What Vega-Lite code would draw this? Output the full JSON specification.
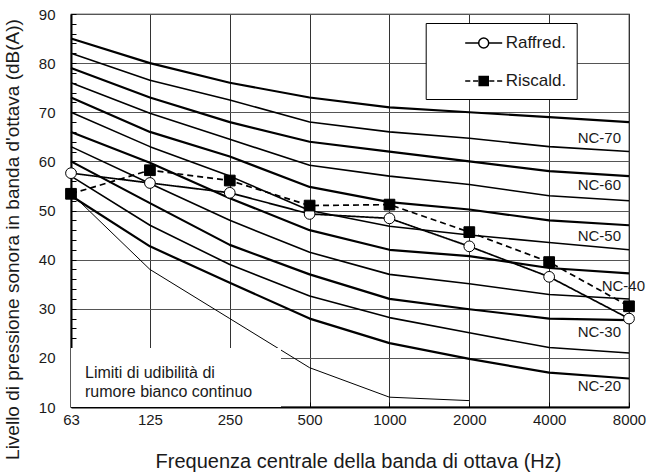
{
"$schema":"https://vega.github.io/schema/vega-lite/v6.json",
"width":558,"height":393,
"autosize":{"type":"none"},
"padding":{"left":71,"top":14,"right":22,"bottom":65},
"background":"white",
"config":{
 "font":"Liberation Sans",
 "view":{"stroke":"black","strokeWidth":1.2},
 "axis":{"labelFont":"Liberation Sans","titleFont":"Liberation Sans","labelColor":"#1a1a1a","titleColor":"#1a1a1a","titleFontWeight":"normal","domainColor":"black","domainWidth":2,"tickColor":"black","tickWidth":1,"gridColor":"#444","gridWidth":1}
},
"resolve":{"axis":{"y":"independent"}},
"datasets":{
 "nc":[
  {"curva":"NC-70","tipo":"principale","Hz":63,"dB":85},{"curva":"NC-70","tipo":"principale","Hz":125,"dB":80},{"curva":"NC-70","tipo":"principale","Hz":250,"dB":76},{"curva":"NC-70","tipo":"principale","Hz":500,"dB":73},{"curva":"NC-70","tipo":"principale","Hz":1000,"dB":71},{"curva":"NC-70","tipo":"principale","Hz":2000,"dB":70},{"curva":"NC-70","tipo":"principale","Hz":4000,"dB":69},{"curva":"NC-70","tipo":"principale","Hz":8000,"dB":68},
  {"curva":"NC-65","tipo":"intermedia","Hz":63,"dB":82},{"curva":"NC-65","tipo":"intermedia","Hz":125,"dB":76.5},{"curva":"NC-65","tipo":"intermedia","Hz":250,"dB":72.5},{"curva":"NC-65","tipo":"intermedia","Hz":500,"dB":68},{"curva":"NC-65","tipo":"intermedia","Hz":1000,"dB":66},{"curva":"NC-65","tipo":"intermedia","Hz":2000,"dB":64.7},{"curva":"NC-65","tipo":"intermedia","Hz":4000,"dB":63},{"curva":"NC-65","tipo":"intermedia","Hz":8000,"dB":62},
  {"curva":"NC-60","tipo":"principale","Hz":63,"dB":79},{"curva":"NC-60","tipo":"principale","Hz":125,"dB":73},{"curva":"NC-60","tipo":"principale","Hz":250,"dB":68},{"curva":"NC-60","tipo":"principale","Hz":500,"dB":64},{"curva":"NC-60","tipo":"principale","Hz":1000,"dB":62},{"curva":"NC-60","tipo":"principale","Hz":2000,"dB":60},{"curva":"NC-60","tipo":"principale","Hz":4000,"dB":58},{"curva":"NC-60","tipo":"principale","Hz":8000,"dB":57},
  {"curva":"NC-55","tipo":"intermedia","Hz":63,"dB":76},{"curva":"NC-55","tipo":"intermedia","Hz":125,"dB":69.8},{"curva":"NC-55","tipo":"intermedia","Hz":250,"dB":64.5},{"curva":"NC-55","tipo":"intermedia","Hz":500,"dB":59.2},{"curva":"NC-55","tipo":"intermedia","Hz":1000,"dB":57},{"curva":"NC-55","tipo":"intermedia","Hz":2000,"dB":55.3},{"curva":"NC-55","tipo":"intermedia","Hz":4000,"dB":53},{"curva":"NC-55","tipo":"intermedia","Hz":8000,"dB":52},
  {"curva":"NC-50","tipo":"principale","Hz":63,"dB":73},{"curva":"NC-50","tipo":"principale","Hz":125,"dB":66},{"curva":"NC-50","tipo":"principale","Hz":250,"dB":61},{"curva":"NC-50","tipo":"principale","Hz":500,"dB":54.8},{"curva":"NC-50","tipo":"principale","Hz":1000,"dB":51.7},{"curva":"NC-50","tipo":"principale","Hz":2000,"dB":50.2},{"curva":"NC-50","tipo":"principale","Hz":4000,"dB":48},{"curva":"NC-50","tipo":"principale","Hz":8000,"dB":47},
  {"curva":"NC-45","tipo":"intermedia","Hz":63,"dB":70},{"curva":"NC-45","tipo":"intermedia","Hz":125,"dB":63},{"curva":"NC-45","tipo":"intermedia","Hz":250,"dB":57},{"curva":"NC-45","tipo":"intermedia","Hz":500,"dB":50},{"curva":"NC-45","tipo":"intermedia","Hz":1000,"dB":46.8},{"curva":"NC-45","tipo":"intermedia","Hz":2000,"dB":45},{"curva":"NC-45","tipo":"intermedia","Hz":4000,"dB":43.5},{"curva":"NC-45","tipo":"intermedia","Hz":8000,"dB":42},
  {"curva":"NC-40","tipo":"principale","Hz":63,"dB":66},{"curva":"NC-40","tipo":"principale","Hz":125,"dB":59.7},{"curva":"NC-40","tipo":"principale","Hz":250,"dB":52.5},{"curva":"NC-40","tipo":"principale","Hz":500,"dB":46},{"curva":"NC-40","tipo":"principale","Hz":1000,"dB":42},{"curva":"NC-40","tipo":"principale","Hz":2000,"dB":40.7},{"curva":"NC-40","tipo":"principale","Hz":4000,"dB":38.3},{"curva":"NC-40","tipo":"principale","Hz":8000,"dB":37.2},
  {"curva":"NC-35","tipo":"intermedia","Hz":63,"dB":63},{"curva":"NC-35","tipo":"intermedia","Hz":125,"dB":55.5},{"curva":"NC-35","tipo":"intermedia","Hz":250,"dB":48},{"curva":"NC-35","tipo":"intermedia","Hz":500,"dB":41.5},{"curva":"NC-35","tipo":"intermedia","Hz":1000,"dB":37},{"curva":"NC-35","tipo":"intermedia","Hz":2000,"dB":35.1},{"curva":"NC-35","tipo":"intermedia","Hz":4000,"dB":32.9},{"curva":"NC-35","tipo":"intermedia","Hz":8000,"dB":32},
  {"curva":"NC-30","tipo":"principale","Hz":63,"dB":60},{"curva":"NC-30","tipo":"principale","Hz":125,"dB":51.5},{"curva":"NC-30","tipo":"principale","Hz":250,"dB":43},{"curva":"NC-30","tipo":"principale","Hz":500,"dB":37},{"curva":"NC-30","tipo":"principale","Hz":1000,"dB":32},{"curva":"NC-30","tipo":"principale","Hz":2000,"dB":29.9},{"curva":"NC-30","tipo":"principale","Hz":4000,"dB":28},{"curva":"NC-30","tipo":"principale","Hz":8000,"dB":27.7},
  {"curva":"NC-25","tipo":"intermedia","Hz":63,"dB":57},{"curva":"NC-25","tipo":"intermedia","Hz":125,"dB":47},{"curva":"NC-25","tipo":"intermedia","Hz":250,"dB":39},{"curva":"NC-25","tipo":"intermedia","Hz":500,"dB":32.6},{"curva":"NC-25","tipo":"intermedia","Hz":1000,"dB":28.2},{"curva":"NC-25","tipo":"intermedia","Hz":2000,"dB":25.1},{"curva":"NC-25","tipo":"intermedia","Hz":4000,"dB":22.1},{"curva":"NC-25","tipo":"intermedia","Hz":8000,"dB":21},
  {"curva":"NC-20","tipo":"principale","Hz":63,"dB":53},{"curva":"NC-20","tipo":"principale","Hz":125,"dB":42.7},{"curva":"NC-20","tipo":"principale","Hz":250,"dB":35.3},{"curva":"NC-20","tipo":"principale","Hz":500,"dB":28},{"curva":"NC-20","tipo":"principale","Hz":1000,"dB":23},{"curva":"NC-20","tipo":"principale","Hz":2000,"dB":19.8},{"curva":"NC-20","tipo":"principale","Hz":4000,"dB":17},{"curva":"NC-20","tipo":"principale","Hz":8000,"dB":15.8},
  {"curva":"Soglia","tipo":"soglia","Hz":63,"dB":53.5},{"curva":"Soglia","tipo":"soglia","Hz":125,"dB":38},{"curva":"Soglia","tipo":"soglia","Hz":250,"dB":28},{"curva":"Soglia","tipo":"soglia","Hz":500,"dB":18},{"curva":"Soglia","tipo":"soglia","Hz":1000,"dB":12},{"curva":"Soglia","tipo":"soglia","Hz":2000,"dB":11.3}
 ],
 "misure":[
  {"serie":"Raffred.","Hz":63,"dB":57.6},{"serie":"Raffred.","Hz":125,"dB":55.6},{"serie":"Raffred.","Hz":250,"dB":53.6},{"serie":"Raffred.","Hz":500,"dB":49.3},{"serie":"Raffred.","Hz":1000,"dB":48.4},{"serie":"Raffred.","Hz":2000,"dB":42.7},{"serie":"Raffred.","Hz":4000,"dB":36.5},{"serie":"Raffred.","Hz":8000,"dB":28},
  {"serie":"Riscald.","Hz":63,"dB":53.4},{"serie":"Riscald.","Hz":125,"dB":58.2},{"serie":"Riscald.","Hz":250,"dB":56.1},{"serie":"Riscald.","Hz":500,"dB":51},{"serie":"Riscald.","Hz":1000,"dB":51.2},{"serie":"Riscald.","Hz":2000,"dB":45.6},{"serie":"Riscald.","Hz":4000,"dB":39.5},{"serie":"Riscald.","Hz":8000,"dB":30.5}
 ],
 "riquadro":[{"x1":63,"x2":390,"y1":10,"y2":22}],
 "nota":[{"testo":"Limiti di udibilità di\nrumore bianco continuo","Hz":63,"dB":16.0}],
 "etichette":[
  {"label":"NC-70","Hz":8000,"dB":64.8},{"label":"NC-60","Hz":8000,"dB":55.1},{"label":"NC-50","Hz":8000,"dB":44.8},{"label":"NC-40","Hz":8000,"dB":34.7},{"label":"NC-30","Hz":8000,"dB":25.2},{"label":"NC-20","Hz":8000,"dB":14.3}
 ]
},
"layer":[
 {"data":{"name":"nc"},
  "mark":{"type":"line","color":"black","strokeJoin":"round"},
  "encoding":{
   "x":{"field":"Hz","type":"quantitative","scale":{"type":"log","base":2,"domain":[63,8000],"nice":false},
        "axis":{"values":[63,125,250,500,1000,2000,4000,8000],"format":"d","grid":true,"gridColor":"#333","tickSize":-5,"labelPadding":10,"labelFontSize":15,"labelFlush":false,"labelOverlap":false,
                "title":"Frequenza centrale della banda di ottava (Hz)","titleFontSize":20,"titleX":287,"titleY":54,"titleBaseline":"middle","titleAlign":"center"}},
   "y":{"field":"dB","type":"quantitative","scale":{"domain":[10,90],"nice":false,"zero":false},
        "axis":{"orient":"left","values":[10,20,30,40,50,60,70,80,90],"grid":true,"gridColor":"#555","tickSize":-5,"labelPadding":21,"labelFontSize":15,"labelOverlap":false,"labelFlush":false,
                "title":"Livello di pressione sonora in banda d'ottava (dB(A))","titleFontSize":19,"titleX":-59,"titleY":225,"titleBaseline":"middle","titleAlign":"center"}},
   "detail":{"field":"curva","type":"nominal"},
   "strokeWidth":{"field":"tipo","type":"nominal","scale":{"domain":["principale","intermedia","soglia"],"range":[2.2,1,0.9]},"legend":null}
  }},
 {"data":{"name":"riquadro"},
  "mark":{"type":"rect","fill":"white"},
  "encoding":{
   "x":{"field":"x1","type":"quantitative","scale":{"type":"log","base":2,"domain":[63,8000],"nice":false}},
   "x2":{"field":"x2"},
   "y":{"field":"y1","type":"quantitative","scale":{"domain":[10,90],"nice":false,"zero":false},"axis":null},
   "y2":{"field":"y2"}
  }},
 {"data":{"name":"nota"},
  "mark":{"type":"text","align":"left","baseline":"alphabetic","dx":14,"fontSize":16,"lineBreak":"\n","lineHeight":19,"color":"#1a1a1a","font":"Liberation Sans"},
  "encoding":{
   "x":{"field":"Hz","type":"quantitative","scale":{"type":"log","base":2,"domain":[63,8000],"nice":false}},
   "y":{"field":"dB","type":"quantitative","scale":{"domain":[10,90],"nice":false,"zero":false},"axis":null},
   "text":{"field":"testo","type":"nominal"}
  }},
 {"data":{"name":"misure"},
  "mark":{"type":"line","color":"black","strokeWidth":1.7},
  "encoding":{
   "x":{"field":"Hz","type":"quantitative","scale":{"type":"log","base":2,"domain":[63,8000],"nice":false}},
   "y":{"field":"dB","type":"quantitative","scale":{"domain":[10,90],"nice":false,"zero":false},
        "axis":{"orient":"left","values":[12,14,16,18,22,24,26,28,32,34,36,38,42,44,46,48,52,54,56,58,62,64,66,68,72,74,76,78,82,84,86,88],"labels":false,"grid":false,"domain":false,"tickSize":-5,"title":null}},
   "strokeDash":{"field":"serie","type":"nominal","scale":{"range":[[1,0],[6,4]]},"legend":null}
  }},
 {"data":{"name":"misure"},
  "mark":{"type":"point","filled":true,"stroke":"black","strokeWidth":1,"size":115,"opacity":1},
  "encoding":{
   "x":{"field":"Hz","type":"quantitative","scale":{"type":"log","base":2,"domain":[63,8000],"nice":false}},
   "y":{"field":"dB","type":"quantitative","scale":{"domain":[10,90],"nice":false,"zero":false},"axis":null},
   "shape":{"field":"serie","type":"nominal","scale":{"range":["circle","square"]},"legend":null},
   "fill":{"field":"serie","type":"nominal","scale":{"domain":["Raffred.","Riscald."],"range":["white","black"]},
            "legend":{"orient":"none","legendX":354.7,"legendY":9,"direction":"vertical","title":null,
                      "fillColor":"white","strokeColor":"black","padding":10,
                      "symbolSize":342,"symbolOffset":38,"labelOffset":12,"rowPadding":20,
                      "labelFont":"Liberation Sans","labelFontSize":17,"labelColor":"#1a1a1a",
                      "labelExpr":"datum.label + '\u2003\u2003\u2002\u2009\u2009'",
                      "encoding":{"symbols":{
                        "shape":{"condition":{"test":"datum.value === 'Raffred.'","value":"M-2,0H-0.54M0.54,0H2M0.54,0A0.54,0.54,0,1,1,-0.54,0A0.54,0.54,0,1,1,0.54,0Z"},"value":"M-2,0H-1.45M-1.15,0H-0.6M-0.49,-0.49H0.49V0.49H-0.49ZM0.6,0H1.15M1.45,0H2"},
                        "stroke":{"value":"black"},
                        "strokeWidth":{"value":1.5},
                        "opacity":{"value":1}
                      }}}}
  }},
 {"data":{"name":"etichette"},
  "transform":[{"filter":"datum.label !== 'NC-40'"}],
  "mark":{"type":"text","align":"right","baseline":"middle","dx":-8,"fontSize":15,"color":"#1a1a1a","font":"Liberation Sans"},
  "encoding":{
   "x":{"field":"Hz","type":"quantitative","scale":{"type":"log","base":2,"domain":[63,8000],"nice":false}},
   "y":{"field":"dB","type":"quantitative","scale":{"domain":[10,90],"nice":false,"zero":false},"axis":null},
   "text":{"field":"label","type":"nominal"}
  }},
 {"data":{"name":"etichette"},
  "transform":[{"filter":"datum.label === 'NC-40'"}],
  "mark":{"type":"text","align":"right","baseline":"middle","dx":16,"fontSize":15,"color":"#1a1a1a","font":"Liberation Sans"},
  "encoding":{
   "x":{"field":"Hz","type":"quantitative","scale":{"type":"log","base":2,"domain":[63,8000],"nice":false}},
   "y":{"field":"dB","type":"quantitative","scale":{"domain":[10,90],"nice":false,"zero":false},"axis":null},
   "text":{"field":"label","type":"nominal"}
  }}
]
}
